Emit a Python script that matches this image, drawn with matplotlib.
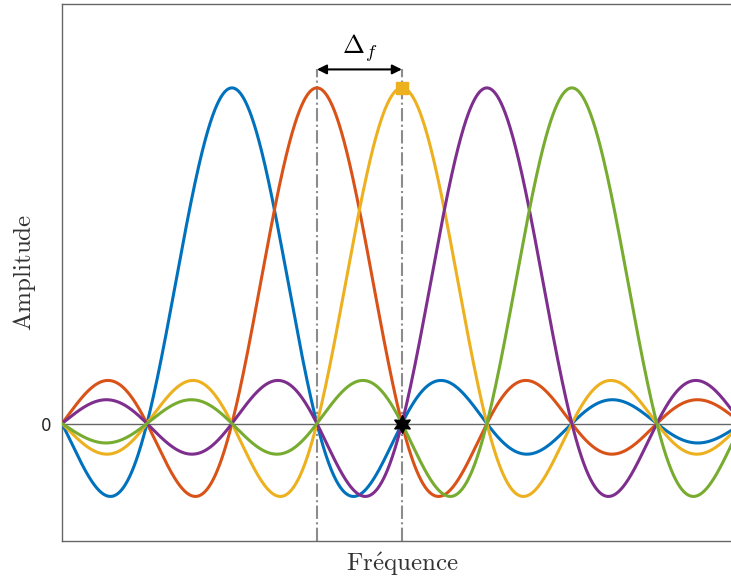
import matplotlib
matplotlib.use('Agg')
import matplotlib.pyplot as plt
import numpy as np

plt.rcParams['mathtext.fontset'] = 'cm'

# subcarrier centres, in units of the spacing Delta_f
centres = [2, 3, 4, 5, 6]
colors = ['#0072BD', '#D95319', '#EDB120', '#7E2F8E', '#77AC30']
f = np.linspace(0, 8, 2000)

fig = plt.figure(figsize=(7.31, 5.77), dpi=100)
ax = fig.add_axes([0.0848, 0.0624, 0.930, 0.9307])

ax.axhline(0, color='0.4', lw=1, zorder=1)
for c, col in zip(centres, colors):
    ax.plot(f, np.sinc(f - c), color=col, lw=2.2, zorder=3)

# spacing markers
for xv in (3, 4):
    ax.plot([xv, xv], [-0.35, 1.055], color='0.55', lw=1.5, ls='-.', zorder=2)
ax.annotate('', xy=(4, 1.055), xytext=(3, 1.055),
            arrowprops=dict(arrowstyle='<|-|>', color='black', lw=1.5,
                            shrinkA=0, shrinkB=0, mutation_scale=14))
ax.text(3.5, 1.07, r'$\Delta_f$', ha='center', va='bottom', fontsize=19)
ax.plot(4, 1, marker='s', color='#EDB120', ms=9, zorder=4)
ax.plot(4, 0, marker=(6, 1, 0), color='black', ms=13, zorder=5)

ax.set_xlim(0, 8)
ax.set_ylim(-0.35, 1.25)
ax.set_xticks([])
ax.set_yticks([0])
ax.tick_params(length=0, labelsize=12, labelcolor='0.15', pad=8)
for s in ax.spines.values():
    s.set_color('0.4')
    s.set_linewidth(1)
ax.set_xlabel(r'$\mathrm{Fr\acute{e}quence}$', fontsize=18, color='0.2', labelpad=7)
ax.set_ylabel(r'$\mathrm{Amplitude}$', fontsize=18, color='0.2', labelpad=2)

fig.savefig('out.png', dpi=100)
